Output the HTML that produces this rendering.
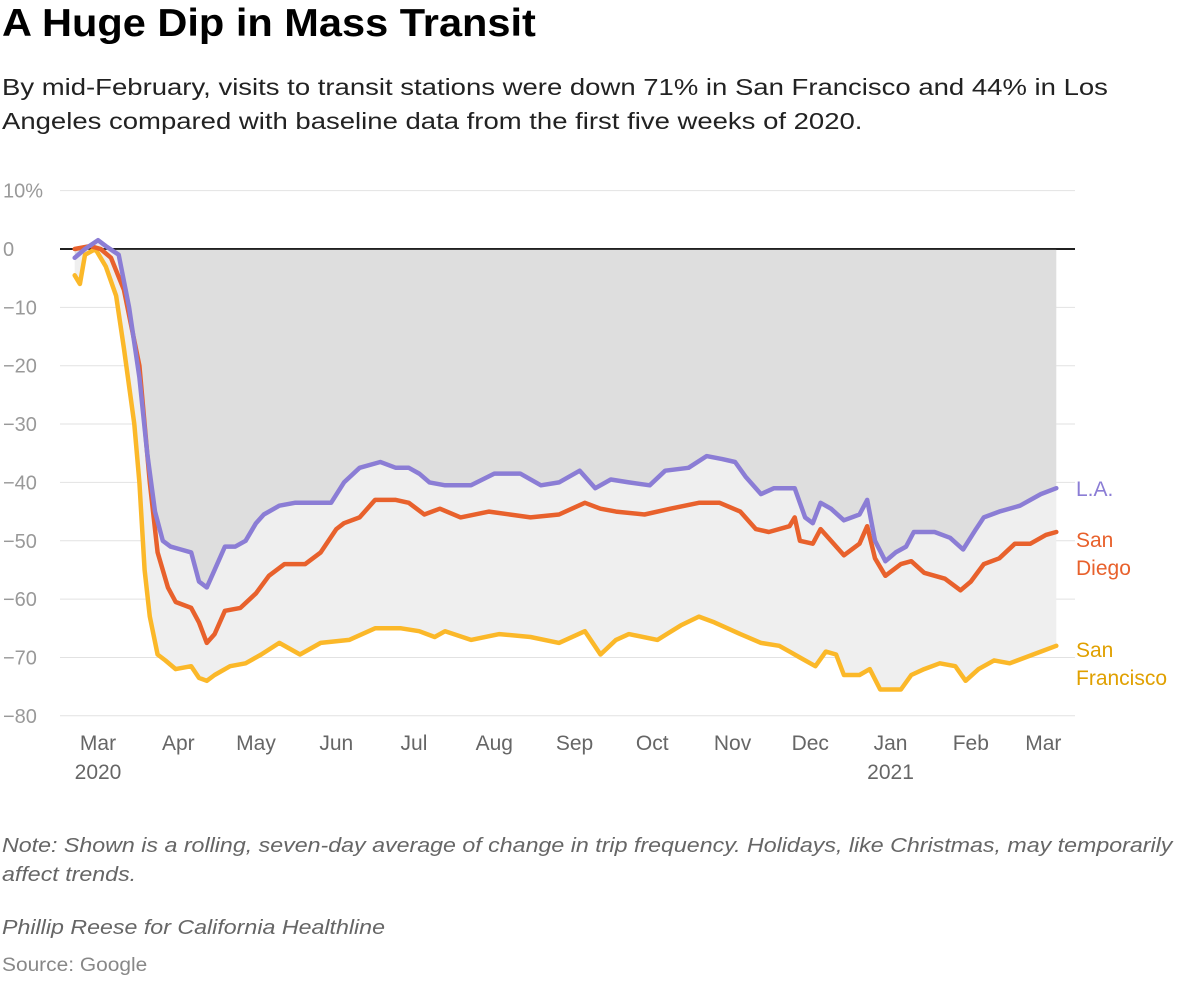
<!DOCTYPE html>
<html><head><meta charset="utf-8"><style>
body{margin:0;background:#fff;width:1200px;height:990px;overflow:hidden;font-family:"Liberation Sans",sans-serif}
.t{position:absolute;left:2px;white-space:nowrap;transform-origin:0 0}
</style></head><body>
<div class="t" style="top:2px;font-size:39px;font-weight:bold;color:#000;transform:scaleX(1.065)">A Huge Dip in Mass Transit</div>
<div class="t" style="top:70px;font-size:23.5px;line-height:34px;color:#222;transform:scaleX(1.17)">By mid-February, visits to transit stations were down 71% in San Francisco and 44% in Los<br>Angeles compared with baseline data from the first five weeks of 2020.</div>
<svg id="chart" width="1200" height="800" style="position:absolute;left:0;top:0" font-family="Liberation Sans, sans-serif"></svg>
<div class="t" style="top:832px;font-size:20px;line-height:29px;font-style:italic;color:#666;transform:scaleX(1.16)">Note: Shown is a rolling, seven-day average of change in trip frequency. Holidays, like Christmas, may temporarily<br>affect trends.</div>
<div class="t" style="top:917px;font-size:20px;font-style:italic;color:#666;transform:scaleX(1.16)">Phillip Reese for California Healthline</div>
<div class="t" style="top:955px;font-size:19px;color:#888;transform:scaleX(1.1)">Source: Google</div>
<script>
const yTicks=[10,0,-10,-20,-30,-40,-50,-60,-70,-80];
const yTickLabels=["10%","0","\u221210","\u221220","\u221230","\u221240","\u221250","\u221260","\u221270","\u221280"];
const monthDays=[0,31,61,92,122,153,184,214,245,275,306,337,365];
const monthLabels=["Mar","Apr","May","Jun","Jul","Aug","Sep","Oct","Nov","Dec","Jan","Feb","Mar"];
const laDays=[-9,-5,0,3,8,12,16,19,22,25,28,32,36,39,42,45,49,53,57,61,64,70,76,82,90,95,101,109,115,120,124,128,134,144,153,163,171,178,186,192,198,205,213,219,228,235,241,246,250,256,261,269,273,276,279,283,288,294,297,300,304,308,312,315,323,329,334,339,342,348,356,364,370];
const laVals=[-1.5,0,1.5,0.5,-1,-10,-22,-35,-45,-50,-51,-51.5,-52,-57,-58,-55,-51,-51,-50,-47,-45.5,-44,-43.5,-43.5,-43.5,-40,-37.5,-36.5,-37.5,-37.5,-38.5,-40,-40.5,-40.5,-38.5,-38.5,-40.5,-40,-38,-41,-39.5,-40,-40.5,-38,-37.5,-35.5,-36,-36.5,-39,-42,-41,-41,-46,-47,-43.5,-44.5,-46.5,-45.5,-43,-50,-53.5,-52,-51,-48.5,-48.5,-49.5,-51.5,-48,-46,-45,-44,-42,-41];
const sdDays=[-9,-3,1,5,10,16,20,23,27,30,36,39,42,45,49,55,61,66,72,80,86,92,95,101,107,115,120,126,132,140,151,159,167,178,188,194,200,211,221,232,240,248,254,259,267,269,271,276,279,283,288,294,297,300,304,310,314,319,327,333,337,342,348,354,360,366,370];
const sdVals=[0,0.5,0,-1.5,-7,-20,-40,-52,-58,-60.5,-61.5,-64,-67.5,-66,-62,-61.5,-59,-56,-54,-54,-52,-48,-47,-46,-43,-43,-43.5,-45.5,-44.5,-46,-45,-45.5,-46,-45.5,-43.5,-44.5,-45,-45.5,-44.5,-43.5,-43.5,-45,-48,-48.5,-47.5,-46,-50,-50.5,-48,-50,-52.5,-50.5,-47.5,-53,-56,-54,-53.5,-55.5,-56.5,-58.5,-57,-54,-53,-50.5,-50.5,-49,-48.5];
const sfDays=[-9,-7,-5,-1,3,7,10,14,16,18,20,23,26,30,36,39,42,45,51,57,63,70,78,86,97,107,117,124,130,134,144,155,167,178,188,194,200,205,216,225,232,238,248,256,263,267,271,277,281,285,288,294,298,302,310,314,319,325,331,335,340,346,352,358,364,370];
const sfVals=[-4.5,-6,-1,0,-3,-8,-17,-30,-40,-55,-63,-69.5,-70.5,-72,-71.5,-73.5,-74,-73,-71.5,-71,-69.5,-67.5,-69.5,-67.5,-67,-65,-65,-65.5,-66.5,-65.5,-67,-66,-66.5,-67.5,-65.5,-69.5,-67,-66,-67,-64.5,-63,-64,-66,-67.5,-68,-69,-70,-71.5,-69,-69.5,-73,-73,-72,-75.5,-75.5,-73,-72,-71,-71.5,-74,-72,-70.5,-71,-70,-69,-68];
const NS="http://www.w3.org/2000/svg";
const svg=document.getElementById('chart');
const X=d=>98+d*2.59, Y=v=>249-v*5.835;
function mk(tag,attrs,parent){const e=document.createElementNS(NS,tag);for(const k in attrs)e.setAttribute(k,attrs[k]);(parent||svg).appendChild(e);return e;}
function pts(days,vals){return days.map((d,i)=>X(d).toFixed(1)+","+Y(vals[i]).toFixed(1));}
yTicks.forEach((t,i)=>{
  const g=mk('line',{x1:60,x2:1075,y1:Y(t),y2:Y(t),stroke:t===0?'#000':'#e2e2e2','stroke-width':t===0?1.5:1});
  
  
  const l=mk('text',{x:3,y:Y(t)+7,'font-size':20,fill:'#999'});l.textContent=yTickLabels[i];
  
  
});
const la=pts(laDays,laVals), sf=pts(sfDays,sfVals);
const dark=mk('polygon',{points:[X(laDays[0]).toFixed(1)+","+Y(0)].concat(la,[X(laDays[laDays.length-1]).toFixed(1)+","+Y(0)]).join(" "),fill:'#dedede'});


const light=mk('polygon',{points:la.concat(sf.slice().reverse()).join(" "),fill:'#efefef'});


mk('line',{x1:60,x2:1075,y1:Y(0),y2:Y(0),stroke:'#000','stroke-width':1.5});
[[sfDays,sfVals,'#fbb829','line-san-francisco'],[sdDays,sdVals,'#e8612c','line-san-diego'],[laDays,laVals,'#8b7dd5','line-la']].forEach(s=>{
  const p=mk('polyline',{points:pts(s[0],s[1]).join(" "),fill:'none',stroke:s[2],'stroke-width':4.5,'stroke-linejoin':'round','stroke-linecap':'round'});
  
  
});
monthDays.forEach((d,i)=>{
  const t=mk('text',{x:X(d),y:750,'font-size':21,fill:'#666','text-anchor':'middle'});t.textContent=monthLabels[i];
  
  
});
[[0,"2020"],[306,"2021"]].forEach(a=>{const t=mk('text',{x:X(a[0]),y:779,'font-size':21,fill:'#666','text-anchor':'middle'});t.textContent=a[1];
  
  });
[[496,"L.A.",'#8b7dd5'],[547,"San",'#e8612c'],[575,"Diego",'#e8612c'],[657,"San",'#e0a000'],[685,"Francisco",'#e0a000']].forEach(a=>{
  const t=mk('text',{x:1076,y:a[0],'font-size':21,fill:a[2]});t.textContent=a[1];
  
  
});
</script>
</body></html>
